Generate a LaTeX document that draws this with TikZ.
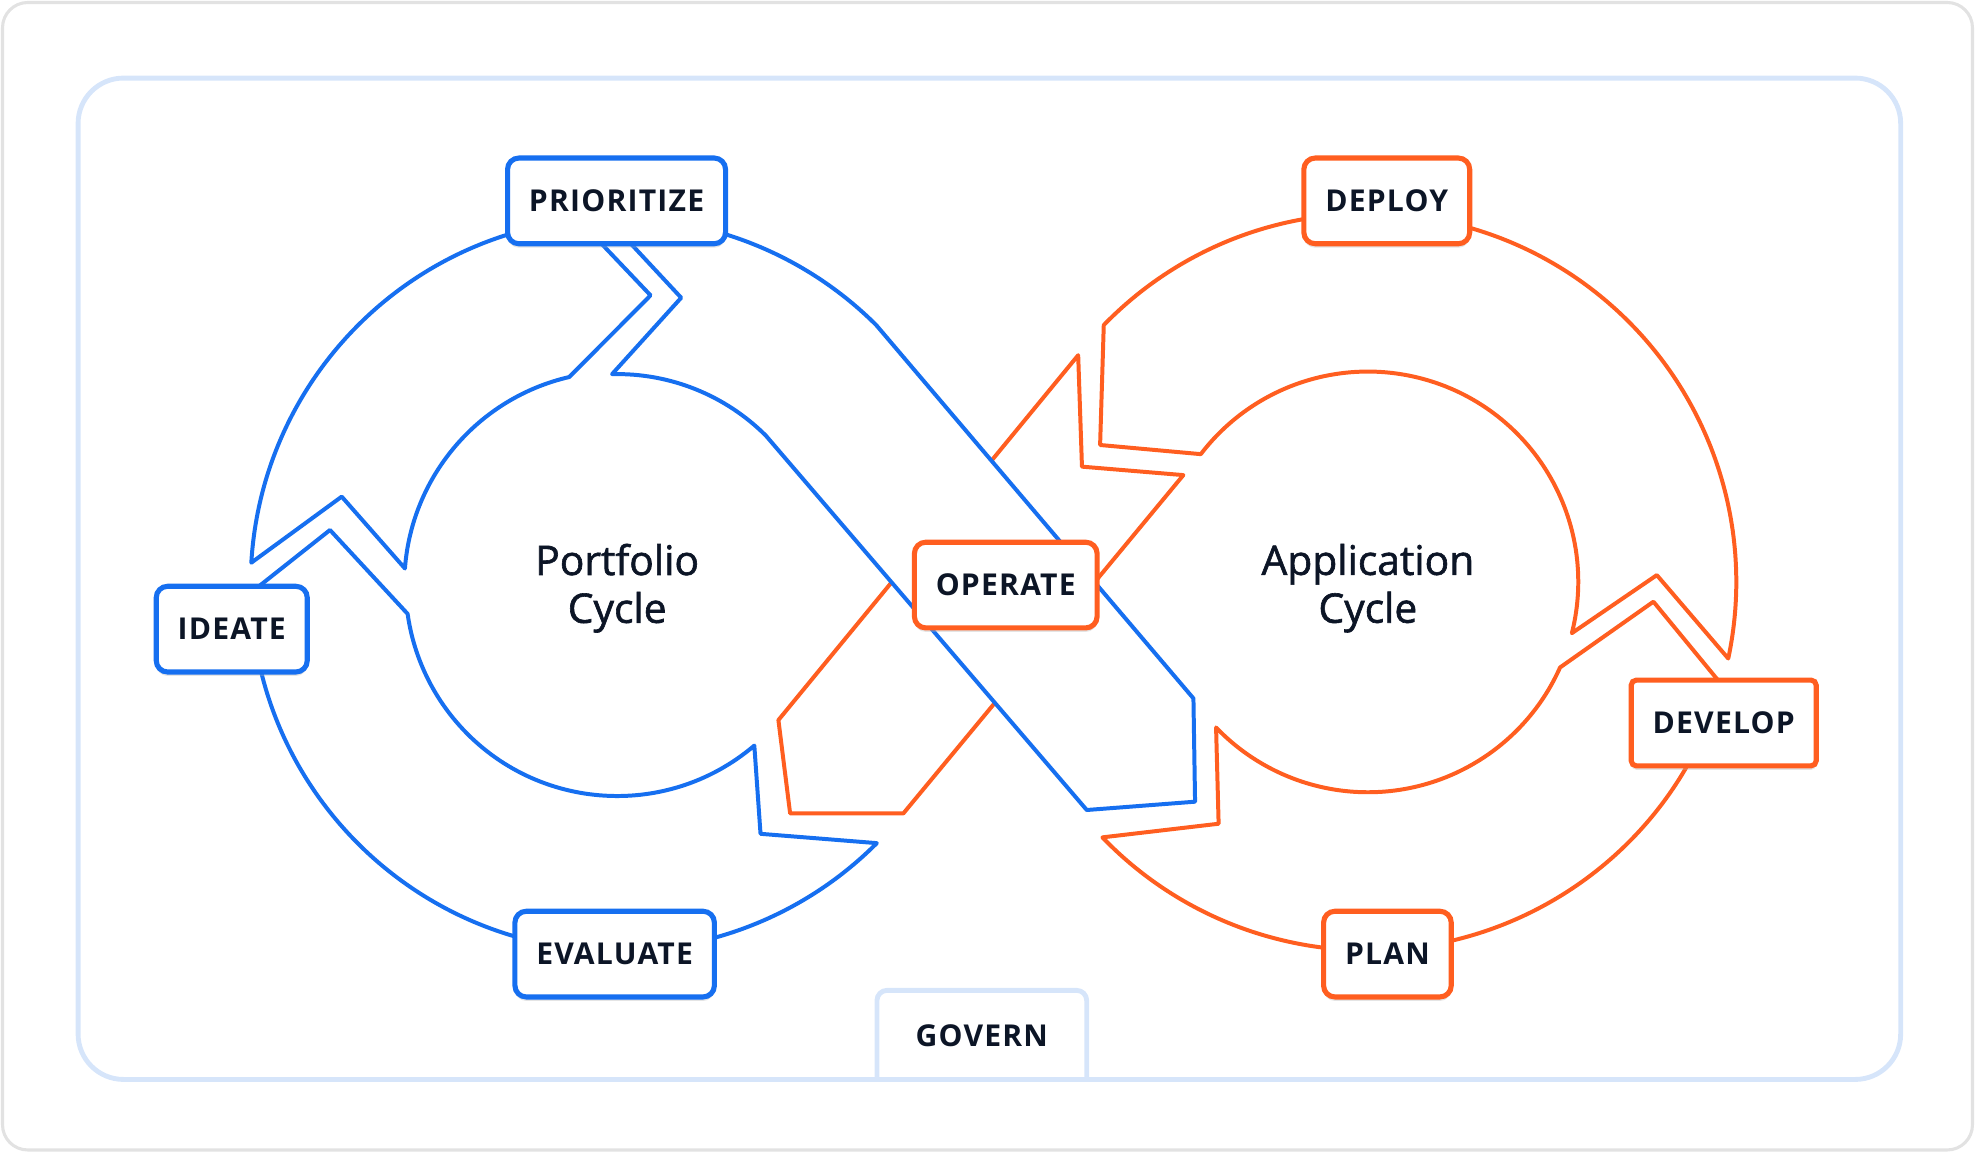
\documentclass[tikz,border=0pt]{standalone}
\usepackage{fontspec}
\setmainfont{Open Sans}
\newfontfamily\stagefont[LetterSpace=4]{Open Sans}
\newfontfamily\cyclefont[FakeBold=1.5]{Open Sans}
\usepackage{tikz}
\usetikzlibrary{calc,shadows}
\definecolor{pblue}{RGB}{22,111,240}
\definecolor{aorange}{RGB}{255,94,32}
\definecolor{ink}{RGB}{12,21,38}
\definecolor{frameblue}{RGB}{214,229,250}
\definecolor{framegray}{RGB}{226,226,226}
\tikzstyle{stage}=[rounded corners=0.09cm, line width=1.15pt, fill=white, minimum height=0.68cm, inner xsep=0.17cm, font=\stagefont\fontsize{6.8}{7}\selectfont\bfseries, text=ink, drop shadow={shadow xshift=0pt, shadow yshift=-0.9pt, fill=black!30, opacity=0.35}]
\tikzstyle{pbox}=[stage, draw=pblue]
\tikzstyle{abox}=[stage, draw=aorange]
\tikzstyle{pring}=[draw=pblue, line width=0.9pt, fill=white, line join=round]
\tikzstyle{aring}=[draw=aorange, line width=0.9pt, fill=white, line join=round]

\begin{document}
\begin{tikzpicture}
[x=0.01cm, y=-0.01cm]
\useasboundingbox (0,0) rectangle (1568,915.4);
% frames
\draw[framegray, line width=0.7pt, rounded corners=0.2cm] (2,2) rectangle (1566,913);
\draw[frameblue, line width=1.1pt, rounded corners=0.36cm] (62,62) rectangle (1509,857);
\coordinate (pc) at (490,464);
\coordinate (ac) at (1086,462);
% application cycle
\draw[aring] ($(ac)+(224.2:292.5)$) arc[start angle=224.2, end angle=372, radius=292.5] -- (1315.4,456.6)
  -- ($(ac)+(14.1:167)$) arc[start angle=14.1, end angle=-142.6, radius=167] -- (873.4,353.3) -- cycle;
\draw[aring] ($(ac)+(16.2:292.5)$) arc[start angle=16.2, end angle=136.1, radius=292.5] -- (967.5,654)
  -- ($(ac)+(136.2:167)$) arc[start angle=136.2, end angle=24, radius=167] -- (1312.7,477.7) -- cycle;
\draw[aring] (856,282) -- (859,370.5) -- (939.5,377.2) -- (717.2,645.8) -- (627.3,645.8) -- (618,571.7) -- cycle;
% portfolio cycle
\draw[pring] ($(pc)+(264:291)$) arc[start angle=264, end angle=183.4, radius=291] -- (271.3,394.3)
  -- ($(pc)+(184.3:169)$) arc[start angle=184.3, end angle=257, radius=169] -- (516.5,234.5) -- cycle;
\draw[pring] ($(pc)+(178.7:291)$) arc[start angle=178.7, end angle=44.9, radius=291] -- (603.8,662)
  -- ($(pc)+(49.6:168)$) arc[start angle=49.6, end angle=172, radius=168] -- (262,420.8) -- cycle;
\draw[pring] ($(pc)+(268.4:291)$) arc[start angle=268.4, end angle=315, radius=291] -- (947.5,554.5)
  -- (948.8,636.5) -- (862.8,643.1) -- ($(pc)+(315:167)$) arc[start angle=315, end angle=268.6, radius=167]
  -- (540.8,236.4) -- cycle;
% centre texts
\node[font=\cyclefont\fontsize{9.2}{10.8}\selectfont, text=ink, align=center] (ptxt) at (490,467) {Portfolio\\Cycle};
\node[font=\cyclefont\fontsize{9.2}{10.8}\selectfont, text=ink, align=center] (atxt) at (1086,467) {Application\\Cycle};
% stages
\node[pbox] (prioritize) at (489.5,159.5) {PRIORITIZE};
\node[pbox] (ideate) at (184,499.5) {IDEATE};
\node[pbox] (evaluate) at (488,757.5) {EVALUATE};
\node[abox] (operate) at (798.5,464.5) {OPERATE};
\node[abox] (deploy) at (1101,159.5) {DEPLOY};
\node[abox, rounded corners=0.04cm] (develop) at (1368.5,574) {DEVELOP};
\node[abox] (plan) at (1101.5,757.5) {PLAN};
% govern tab
\node[font=\stagefont\fontsize{6.8}{7}\selectfont\bfseries, text=ink, minimum width=1.65cm, minimum height=0.7cm] (govern) at (779.5,822) {GOVERN};
\draw[frameblue, line width=1.1pt, rounded corners=0.08cm] (govern.south west) -- (govern.north west) -- (govern.north east) -- (govern.south east);
\end{tikzpicture}
\end{document}
